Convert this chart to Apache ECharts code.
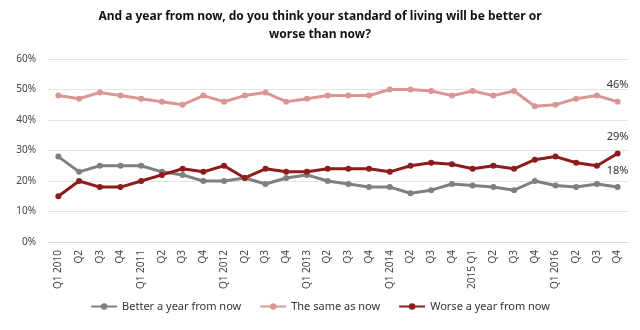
<!DOCTYPE html>
<html>
<head>
<meta charset="utf-8">
<script src="https://cdn.jsdelivr.net/npm/echarts@6/dist/echarts.min.js"></script>
<style>html,body{margin:0;padding:0;background:#fff}#c{width:640px;height:330px}</style>
</head>
<body>
<div id="c"></div>
<script>
var categories = ['Q1 2010','Q2','Q3','Q4','Q1 2011','Q2','Q3','Q4','Q1 2012','Q2','Q3','Q4','Q1 2013','Q2','Q3','Q4','Q1 2014','Q2','Q3','Q4','2015 Q1','Q2','Q3','Q4','Q1 2016','Q2','Q3','Q4'];
var better = [28,23,25,25,25,23,22,20,20,21,19,21,22,20,19,18,18,16,17,19,18.5,18,17,20,18.5,18,19,18];
var same = [48,47,49,48,47,46,45,48,46,48,49,46,47,48,48,48,50,50,49.5,48,49.5,48,49.5,44.5,45,47,48,46];
var worse = [15,20,18,18,20,22,24,23,25,21,24,23,23,24,24,24,23,25,26,25.5,24,25,24,27,28,26,25,29];
var yTicks = [0,10,20,30,40,50,60];
var seriesNames = ['Better a year from now','The same as now','Worse a year from now'];
var colors = ['#7f7f7f','#d99694','#8e1c1c'];
var font = 'Noto Sans';

function withEndLabel(arr){
  return arr.map(function(v,i){
    if(i===arr.length-1){
      return {value:v,label:{show:true,position:'top',distance:8,formatter:function(p){return Math.round(p.value)+'%';},color:'#333',fontSize:11,fontFamily:font}};
    }
    return v;
  });
}

var chart = echarts.init(document.getElementById('c'), null, {renderer:'canvas'});
var mk = function(name,data,color){
  return {name:name,type:'line',data:withEndLabel(data),symbol:'circle',symbolSize:6,
    lineStyle:{width:3,color:color},itemStyle:{color:color},animation:false};
};
chart.setOption({
  animation:false,
  color:colors,
  title:{text:'And a year from now, do you think your standard of living will be better or\nworse than now?',
    left:'center',top:3,textStyle:{fontFamily:font,fontSize:12,fontWeight:'bold',color:'#111',lineHeight:18}},
  grid:{left:48,right:12,top:59,bottom:88},
  legend:{bottom:13,left:'center',itemWidth:26,itemHeight:8,itemGap:18,
    textStyle:{fontFamily:font,fontSize:11,color:'#333'},data:seriesNames},
  xAxis:{type:'category',data:categories,boundaryGap:true,
    axisLine:{show:true,lineStyle:{color:'#d9d9d9'}},axisTick:{show:false},
    axisLabel:{rotate:90,interval:0,fontFamily:font,fontSize:10,color:'#444',margin:8}},
  yAxis:{type:'value',min:0,max:60,interval:10,
    axisLine:{show:false},axisTick:{show:false},
    splitLine:{lineStyle:{color:'#e3e3e3',width:1}},
    axisLabel:{formatter:function(v){return yTicks.indexOf(v)>=0? v+'%':'';},fontFamily:font,fontSize:10,color:'#444',margin:12}},
  series:[mk(seriesNames[0],better,colors[0]),mk(seriesNames[1],same,colors[1]),mk(seriesNames[2],worse,colors[2])]
});
</script>
</body>
</html>
